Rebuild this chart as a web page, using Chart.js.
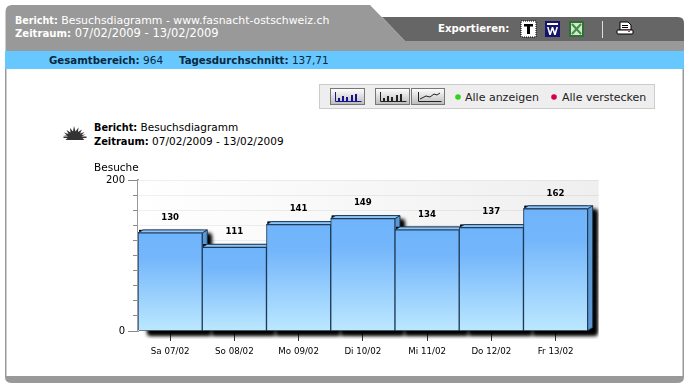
<!DOCTYPE html>
<html lang="de"><head><meta charset="utf-8"><title>Besuchsdiagramm</title>
<script src="https://cdn.jsdelivr.net/npm/chart.js@4/dist/chart.umd.min.js"></script>
<style>
html,body{margin:0;padding:0;background:#fff;width:689px;height:389px;overflow:hidden;font-family:"DejaVu Sans",Verdana,sans-serif}
.t{position:absolute;white-space:nowrap;font-size:10.5px;line-height:13px}
b{font-weight:700;font-size:9.9px}
#wrap{position:absolute;left:0;top:0;width:689px;height:389px}
svg{position:absolute;left:0;top:0}
</style></head><body>
<svg width="689" height="389" viewBox="0 0 689 389">
 <defs>
  <linearGradient id="btn" x1="0" y1="0" x2="0" y2="1"><stop offset="0" stop-color="#fff"/><stop offset="1" stop-color="#bbb"/></linearGradient>
 </defs>
 <path d="M5.5 12 Q5.5 5 12 5 L370 5 L405 41 L684 41 L684 51 L5.5 51Z" fill="#999"/>
 <path d="M382 17 L678 17 Q684 17 684 23 L684 41 L405 41Z" fill="#666"/>
 <rect x="5" y="51" width="679" height="18" fill="#66c8ff"/>
 <rect x="5" y="69" width="1.5" height="308" fill="#999"/>
 <rect x="682.5" y="69" width="1.5" height="308" fill="#999"/>
 <path d="M5 376 L684 376 L684 377 Q684 383 677 383 L12 383 Q5 383 5 377Z" fill="#999"/>
 <!-- export icons -->
 <rect x="521" y="21" width="15" height="16" fill="#fff" stroke="#000" stroke-dasharray="1 1"/>
 <rect x="523" y="23" width="11" height="12" fill="#fff"/>
 <path d="M524 24h9v2.5h-3V34h-3v-7.500h-3z" fill="#000"/>
 <rect x="545" y="21" width="15" height="16" fill="#14146e"/>
 <rect x="547" y="23" width="11" height="2" fill="#fff"/>
 <path d="M547 27l2.300 8h1.500l1.700-5 1.700 5h1.500l2.300-8h-1.600l-1.500 5-1.700-5h-1.400l-1.700 5-1.500-5z" fill="#fff"/>
 <rect x="569" y="21" width="15" height="16" fill="#2f6f33"/>
 <rect x="571" y="23" width="11" height="12" fill="#d3e9cf"/>
 <path d="M572 24l9 10M581 24l-9 10" stroke="#3f8f45" stroke-width="2"/>
 <rect x="602" y="21" width="1" height="17" fill="#ddd"/>
 <path d="M620 22h8l3 3v5h-11z" fill="#fff" stroke="#000" stroke-width="1"/>
 <rect x="622" y="25" width="6" height="1" fill="#000"/><rect x="622" y="27" width="6" height="1" fill="#000"/>
 <rect x="617" y="30" width="16" height="4" rx="1" fill="#fff" stroke="#000"/>
 <rect x="628" y="31" width="2" height="1" fill="#c33"/>
 <!-- toolbox -->
 <rect x="319.500" y="84.500" width="335" height="24" fill="#eee" stroke="#ccc"/>
 <rect x="330.500" y="88.500" width="34" height="16" fill="url(#btn)" stroke="#777"/>
 <path d="M335.500 92v9.500h26" fill="none" stroke="#14148c"/>
 <path d="M338 98h2v3h-2zM342 96h2v5h-2zM346 97h2v4h-2zM351 95h2v6h-2zM355 94h2v7h-2z" fill="#14148c"/>
 <rect x="375.500" y="88.500" width="34" height="16" fill="url(#btn)" stroke="#777"/>
 <path d="M380.500 92v9.500h26" fill="none" stroke="#222"/>
 <path d="M383 98h2v3h-2zM387 96h2v5h-2zM391 97h2v4h-2zM396 95h2v6h-2zM400 94h2v7h-2z" fill="#222"/>
 <rect x="411.500" y="88.500" width="33" height="16" fill="url(#btn)" stroke="#777"/>
 <path d="M418.500 92v9.500h23M420 99l6-3 4 1 4-3 3 1 3-2" fill="none" stroke="#222"/>
 <circle cx="458" cy="97" r="2.800" fill="#2fd41c"/>
 <circle cx="554" cy="97" r="2.800" fill="#d4004f"/>
 <!-- sun icon -->
 <path d="M63 135l4 .5-3-3 4.500 1.500-2-4 4 2.500-.5-4.500 3 3.500 1-5.500 1.500 5.500 3-4 -.5 4.500 4-2.500 -2 4 4.500-1.500-3 3 4-.5-4 2h5v1.500h-4l2 2h-19l2-2h-4v-1.500h5z" fill="#333"/>
</svg>
<div class="t" style="left:15px;top:14px;color:#fff;font-size:10.9px"><b style="font-size:9.6px">Bericht:</b> Besuchsdiagramm - www.fasnacht-ostschweiz.ch</div>
<div class="t" style="left:15px;top:27px;color:#fff;font-size:11.5px"><b style="font-size:10.1px">Zeitraum:</b> 07/02/2009 - 13/02/2009</div>
<div class="t" style="left:49px;top:54px;color:#06283f"><b style="font-size:10.2px">Gesamtbereich:</b> 964</div>
<div class="t" style="left:179px;top:54px;color:#06283f"><b style="font-size:10.2px">Tagesdurchschnitt:</b> 137,71</div>
<div class="t" style="left:438px;top:22px;color:#fff"><b style="font-size:10.2px">Exportieren:</b></div>
<div class="t" style="left:465px;top:90.500px;color:#222;font-size:11px">Alle anzeigen</div>
<div class="t" style="left:562px;top:90.500px;color:#222;font-size:11px">Alle verstecken</div>
<div class="t" style="left:94px;top:121px;color:#000"><b style="font-size:9.7px">Bericht:</b> Besuchsdiagramm</div>
<div class="t" style="left:94px;top:135px;color:#000"><b>Zeitraum:</b> 07/02/2009 - 13/02/2009</div>
<div id="wrap"><canvas id="c" width="689" height="389"></canvas></div>
<script>
const categories = ["Sa 07/02","So 08/02","Mo 09/02","Di 10/02","Mi 11/02","Do 12/02","Fr 13/02"];
const visits = [130,111,141,149,134,137,162];
const yAxisTitle = "Besuche";
const yLabelled = [0,200];
const FONT = '"DejaVu Sans",Verdana,sans-serif';
const DX = 5, DY = 3, BACK = 11;

const pagePlugin = {
  id:'page3d',
  beforeDatasetsDraw(chart){
    const {ctx,chartArea:a,scales:{y}} = chart;
    ctx.save();
    const g = ctx.createLinearGradient(a.left,0,a.right+BACK,0);
    g.addColorStop(0,'#ffffff'); g.addColorStop(1,'#efefef');
    ctx.fillStyle = g;
    ctx.fillRect(a.left,a.top,a.width+BACK,a.height);
    y.ticks.forEach((t,i)=>{
      if(t.value===0) return;
      const p = Math.round(y.getPixelForTick(i))+.5;
      ctx.strokeStyle = 'rgba(0,0,0,.06)';
      ctx.beginPath(); ctx.moveTo(a.left,p); ctx.lineTo(a.right+BACK,p); ctx.stroke();
    });
    // long ticks for labelled values
    ctx.strokeStyle='#888';
    y.ticks.forEach((t,i)=>{
      if(!yLabelled.includes(t.value)) return;
      const p = Math.round(y.getPixelForTick(i))+.5;
      ctx.beginPath(); ctx.moveTo(a.left-10,p); ctx.lineTo(a.left-5,p); ctx.stroke();
    });
    const bars = chart.getDatasetMeta(0).data;
    bars.forEach(b=>{
      const l=b.x-b.width/2, r=b.x+b.width/2, top=b.y, bot=b.base;
      // soft shadow
      ctx.save();
      ctx.beginPath(); ctx.rect(l,a.top-6,a.right+BACK-l,a.height+14); ctx.clip();
      ctx.shadowColor='#000'; ctx.shadowBlur=4; ctx.shadowOffsetX=9; ctx.shadowOffsetY=4;
      ctx.fillStyle='#000';
      ctx.fillRect(l+1,top-3,r-l-1,bot-top+3);
      ctx.fillRect(l+1,top-3,r-l-1,bot-top+3);
      ctx.restore();
      // side face
      ctx.fillStyle='#5b97d3'; ctx.strokeStyle='#1f3a57'; ctx.lineWidth=1;
      ctx.beginPath(); ctx.moveTo(r,top); ctx.lineTo(r+DX,top-DY); ctx.lineTo(r+DX,bot-DY); ctx.lineTo(r,bot); ctx.closePath(); ctx.fill(); ctx.stroke();
      // top face
      ctx.fillStyle='#8cc4f8';
      ctx.beginPath(); ctx.moveTo(l,top); ctx.lineTo(l+DX,top-DY); ctx.lineTo(r+DX,top-DY); ctx.lineTo(r,top); ctx.closePath(); ctx.fill(); ctx.stroke();
    });
    ctx.restore();
  },
  afterDatasetsDraw(chart){
    const {ctx} = chart;
    ctx.save();
    ctx.font = 'bold 8.6px '+FONT;
    ctx.fillStyle='#000'; ctx.textAlign='center'; ctx.textBaseline='middle';
    chart.getDatasetMeta(0).data.forEach((b,i)=>{
      ctx.fillText(String(visits[i]), b.x, b.y-15.5);
    });
    ctx.restore();
  }
};

new Chart(document.getElementById('c'),{
  type:'bar',
  data:{labels:categories,datasets:[{
    data:visits,
    categoryPercentage:1,barPercentage:1,
    borderWidth:1,borderColor:'#1f3a57',
    backgroundColor(c){
      const ch=c.chart, y=ch.scales.y;
      if(!ch.chartArea||!y||c.parsed===undefined) return '#8cc4f8';
      const g=ch.ctx.createLinearGradient(0,y.getPixelForValue(c.parsed.y),0,y.getPixelForValue(0));
      g.addColorStop(0,'#6fb4fb'); g.addColorStop(.25,'#74b6fb'); g.addColorStop(1,'#bce8ff');
      return g;
    }
  }]},
  options:{
    responsive:false,animation:false,
    layout:{padding:{left:94,top:161.5,right:101.3,bottom:10}},
    plugins:{
      legend:{display:false},tooltip:{enabled:false},
      title:{display:true,text:yAxisTitle,align:'start',color:'#000',
        font:{family:FONT,size:10.5,weight:'normal'},padding:{top:0,bottom:6}}
    },
    scales:{
      x:{
        afterFit(s){s.height=48;},
        grid:{offset:false,drawOnChartArea:false,tickLength:10,tickColor:'#333'},
        border:{display:false},
        ticks:{font:{family:FONT,size:8.7},color:'#000',padding:6,maxRotation:0,autoSkip:false}
      },
      y:{
        min:0,max:200,
        afterFit(s){s.width=44;},
        grid:{drawOnChartArea:false,tickLength:5,tickColor:'#888'},
        border:{color:'#999',width:2},
        ticks:{stepSize:20,autoSkip:false,padding:8,color:'#000',font:{family:FONT,size:10},
          callback(v){return yLabelled.includes(v)?String(v):'';}}
      }
    }
  },
  plugins:[pagePlugin]
});
</script>
</body></html>
